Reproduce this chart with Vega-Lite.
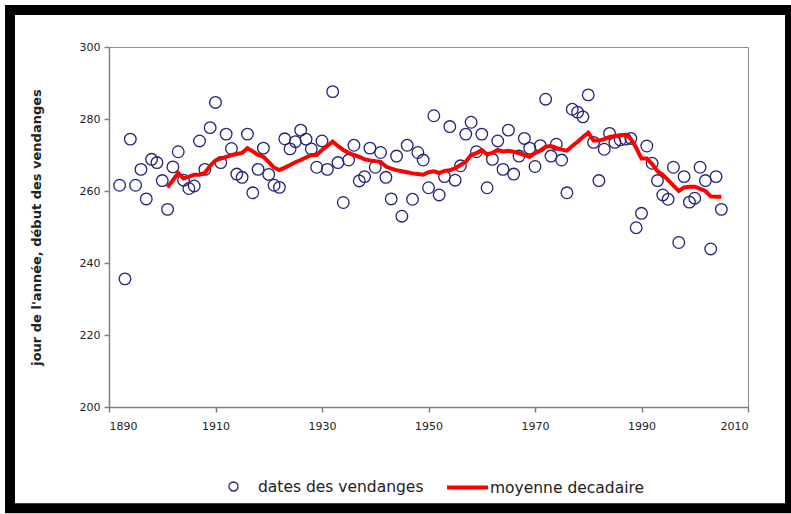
{
  "$schema": "https://vega.github.io/schema/vega-lite/v6.json",
  "width": 639,
  "height": 360,
  "autosize": {"type": "none"},
  "padding": {"left": 109, "top": 47, "right": 43, "bottom": 107},
  "background": "white",
  "datasets": {
    "vendanges": [
      {"annee": 1892, "jour": 261.6}, {"annee": 1893, "jour": 235.6}, {"annee": 1894, "jour": 274.4}, {"annee": 1895, "jour": 261.6},
      {"annee": 1896, "jour": 266}, {"annee": 1897, "jour": 257.8}, {"annee": 1898, "jour": 268.8}, {"annee": 1899, "jour": 267.9},
      {"annee": 1900, "jour": 262.9}, {"annee": 1901, "jour": 254.9}, {"annee": 1902, "jour": 266.7}, {"annee": 1903, "jour": 270.9},
      {"annee": 1904, "jour": 263}, {"annee": 1905, "jour": 260.7}, {"annee": 1906, "jour": 261.4}, {"annee": 1907, "jour": 273.9},
      {"annee": 1908, "jour": 266}, {"annee": 1909, "jour": 277.6}, {"annee": 1910, "jour": 284.6}, {"annee": 1911, "jour": 267.9},
      {"annee": 1912, "jour": 275.8}, {"annee": 1913, "jour": 271.8}, {"annee": 1914, "jour": 264.7}, {"annee": 1915, "jour": 263.8},
      {"annee": 1916, "jour": 275.8}, {"annee": 1917, "jour": 259.5}, {"annee": 1918, "jour": 266}, {"annee": 1919, "jour": 271.9},
      {"annee": 1920, "jour": 264.6}, {"annee": 1921, "jour": 261.6}, {"annee": 1922, "jour": 261}, {"annee": 1923, "jour": 274.5},
      {"annee": 1924, "jour": 271.7}, {"annee": 1925, "jour": 273.7}, {"annee": 1926, "jour": 276.9}, {"annee": 1927, "jour": 274.4},
      {"annee": 1928, "jour": 271.7}, {"annee": 1929, "jour": 266.6}, {"annee": 1930, "jour": 273.9}, {"annee": 1931, "jour": 266},
      {"annee": 1932, "jour": 287.6}, {"annee": 1933, "jour": 267.9}, {"annee": 1934, "jour": 256.8}, {"annee": 1935, "jour": 268.6},
      {"annee": 1936, "jour": 272.7}, {"annee": 1937, "jour": 262.8}, {"annee": 1938, "jour": 264}, {"annee": 1939, "jour": 271.9},
      {"annee": 1940, "jour": 266.6}, {"annee": 1941, "jour": 270.7}, {"annee": 1942, "jour": 263.8}, {"annee": 1943, "jour": 257.8},
      {"annee": 1944, "jour": 269.7}, {"annee": 1945, "jour": 253}, {"annee": 1946, "jour": 272.7}, {"annee": 1947, "jour": 257.7},
      {"annee": 1948, "jour": 270.7}, {"annee": 1949, "jour": 268.6}, {"annee": 1950, "jour": 260.9}, {"annee": 1951, "jour": 280.9},
      {"annee": 1952, "jour": 258.9}, {"annee": 1953, "jour": 264}, {"annee": 1954, "jour": 277.9}, {"annee": 1955, "jour": 263},
      {"annee": 1956, "jour": 267}, {"annee": 1957, "jour": 275.8}, {"annee": 1958, "jour": 279.1}, {"annee": 1959, "jour": 270.9},
      {"annee": 1960, "jour": 275.8}, {"annee": 1961, "jour": 260.9}, {"annee": 1962, "jour": 268.8}, {"annee": 1963, "jour": 273.9},
      {"annee": 1964, "jour": 266}, {"annee": 1965, "jour": 276.9}, {"annee": 1966, "jour": 264.7}, {"annee": 1967, "jour": 269.7},
      {"annee": 1968, "jour": 274.6}, {"annee": 1969, "jour": 271.9}, {"annee": 1970, "jour": 266.8}, {"annee": 1971, "jour": 272.6},
      {"annee": 1972, "jour": 285.5}, {"annee": 1973, "jour": 269.7}, {"annee": 1974, "jour": 273}, {"annee": 1975, "jour": 268.6},
      {"annee": 1976, "jour": 259.5}, {"annee": 1977, "jour": 282.7}, {"annee": 1978, "jour": 281.9}, {"annee": 1979, "jour": 280.6},
      {"annee": 1980, "jour": 286.7}, {"annee": 1981, "jour": 273.5}, {"annee": 1982, "jour": 262.9}, {"annee": 1983, "jour": 271.6},
      {"annee": 1984, "jour": 276}, {"annee": 1985, "jour": 273.5}, {"annee": 1986, "jour": 274.2}, {"annee": 1987, "jour": 274.4},
      {"annee": 1988, "jour": 274.6}, {"annee": 1989, "jour": 249.8}, {"annee": 1990, "jour": 253.8}, {"annee": 1991, "jour": 272.5},
      {"annee": 1992, "jour": 267.7}, {"annee": 1993, "jour": 262.9}, {"annee": 1994, "jour": 258.9}, {"annee": 1995, "jour": 257.7},
      {"annee": 1996, "jour": 266.6}, {"annee": 1997, "jour": 245.7}, {"annee": 1998, "jour": 264}, {"annee": 1999, "jour": 256.9},
      {"annee": 2000, "jour": 258}, {"annee": 2001, "jour": 266.6}, {"annee": 2002, "jour": 262.9}, {"annee": 2003, "jour": 243.9},
      {"annee": 2004, "jour": 264}, {"annee": 2005, "jour": 254.9}
    ],
    "moyenne": [
      {"annee": 1901, "jour": 261}, {"annee": 1902, "jour": 263}, {"annee": 1903, "jour": 265}, {"annee": 1904, "jour": 263.5},
      {"annee": 1905, "jour": 264}, {"annee": 1906, "jour": 264.5}, {"annee": 1907, "jour": 264.5}, {"annee": 1908, "jour": 265},
      {"annee": 1909, "jour": 267}, {"annee": 1910, "jour": 268.5}, {"annee": 1911, "jour": 269}, {"annee": 1912, "jour": 269.5},
      {"annee": 1913, "jour": 270}, {"annee": 1914, "jour": 270.3}, {"annee": 1915, "jour": 270.6}, {"annee": 1916, "jour": 271.9},
      {"annee": 1917, "jour": 271}, {"annee": 1918, "jour": 270}, {"annee": 1919, "jour": 269.5}, {"annee": 1920, "jour": 268},
      {"annee": 1921, "jour": 266.5}, {"annee": 1922, "jour": 265.8}, {"annee": 1923, "jour": 266.5}, {"annee": 1924, "jour": 267.2},
      {"annee": 1925, "jour": 268}, {"annee": 1926, "jour": 268.6}, {"annee": 1927, "jour": 269.3}, {"annee": 1928, "jour": 270},
      {"annee": 1929, "jour": 270}, {"annee": 1930, "jour": 271.4}, {"annee": 1931, "jour": 272.5}, {"annee": 1932, "jour": 273.7},
      {"annee": 1933, "jour": 272.5}, {"annee": 1934, "jour": 271.4}, {"annee": 1935, "jour": 270.6}, {"annee": 1936, "jour": 270},
      {"annee": 1937, "jour": 269.5}, {"annee": 1938, "jour": 268.8}, {"annee": 1939, "jour": 268.5}, {"annee": 1940, "jour": 268.3},
      {"annee": 1941, "jour": 268.1}, {"annee": 1942, "jour": 266.8}, {"annee": 1943, "jour": 266.2}, {"annee": 1944, "jour": 265.8},
      {"annee": 1945, "jour": 265.5}, {"annee": 1946, "jour": 265.2}, {"annee": 1947, "jour": 264.9}, {"annee": 1948, "jour": 264.7},
      {"annee": 1949, "jour": 264.5}, {"annee": 1950, "jour": 265.2}, {"annee": 1951, "jour": 265.5}, {"annee": 1952, "jour": 265},
      {"annee": 1953, "jour": 265.6}, {"annee": 1954, "jour": 265.8}, {"annee": 1955, "jour": 266.3}, {"annee": 1956, "jour": 267.2},
      {"annee": 1957, "jour": 268.1}, {"annee": 1958, "jour": 270}, {"annee": 1959, "jour": 270.5}, {"annee": 1960, "jour": 271.4},
      {"annee": 1961, "jour": 270.2}, {"annee": 1962, "jour": 270.6}, {"annee": 1963, "jour": 271.4}, {"annee": 1964, "jour": 271},
      {"annee": 1965, "jour": 271.2}, {"annee": 1966, "jour": 270.9}, {"annee": 1967, "jour": 270.5}, {"annee": 1968, "jour": 270},
      {"annee": 1969, "jour": 269.5}, {"annee": 1970, "jour": 270.5}, {"annee": 1971, "jour": 271.2}, {"annee": 1972, "jour": 272.3},
      {"annee": 1973, "jour": 272.5}, {"annee": 1974, "jour": 272}, {"annee": 1975, "jour": 271.5}, {"annee": 1976, "jour": 271.2},
      {"annee": 1977, "jour": 272.5}, {"annee": 1978, "jour": 273.7}, {"annee": 1979, "jour": 275}, {"annee": 1980, "jour": 276.2},
      {"annee": 1981, "jour": 274}, {"annee": 1982, "jour": 274}, {"annee": 1983, "jour": 274.4}, {"annee": 1984, "jour": 275},
      {"annee": 1985, "jour": 275.3}, {"annee": 1986, "jour": 275.5}, {"annee": 1987, "jour": 275.6}, {"annee": 1988, "jour": 274.5},
      {"annee": 1989, "jour": 272}, {"annee": 1990, "jour": 269}, {"annee": 1991, "jour": 269}, {"annee": 1992, "jour": 267.5},
      {"annee": 1993, "jour": 265.5}, {"annee": 1994, "jour": 264.5}, {"annee": 1995, "jour": 263}, {"annee": 1996, "jour": 261.5},
      {"annee": 1997, "jour": 260}, {"annee": 1998, "jour": 261}, {"annee": 1999, "jour": 261.2}, {"annee": 2000, "jour": 261.2},
      {"annee": 2001, "jour": 260.6}, {"annee": 2002, "jour": 260}, {"annee": 2003, "jour": 258.5}, {"annee": 2004, "jour": 258.4},
      {"annee": 2005, "jour": 258.4}
    ]
  },
  "layer": [
    {
      "data": {"name": "vendanges"},
      "mark": {"type": "point", "shape": "circle", "filled": false, "size": 135, "strokeWidth": 1.3, "opacity": 1},
      "encoding": {
        "x": {
          "field": "annee", "type": "quantitative",
          "scale": {"domain": [1890, 2010], "nice": false, "zero": false},
          "axis": {"title": null, "values": [1890, 1910, 1930, 1950, 1970, 1990, 2010], "format": "d", "labelPadding": 8}
        },
        "y": {
          "field": "jour", "type": "quantitative",
          "scale": {"domain": [200, 300], "nice": false, "zero": false},
          "axis": {"title": "jour de l'année, début des vendanges", "values": [200, 220, 240, 260, 280, 300], "labelPadding": 4, "titlePadding": 36, "titleFontWeight": "bold", "titleFontSize": 13, "titleColor": "#222", "titleFont": "DejaVu Sans"}
        },
        "color": {
          "datum": "dates des vendanges", "type": "nominal",
          "scale": {"range": ["#23237d"]},
          "legend": {
            "title": null,
            "symbolType": "M-0.22,0A0.22,0.22,0,1,0,0.22,0A0.22,0.22,0,1,0,-0.22,0Z",
            "symbolSize": 1681, "symbolStrokeWidth": 1.3, "labelOffset": 3, "symbolFillColor": "transparent"
          }
        }
      }
    },
    {
      "data": {"name": "moyenne"},
      "mark": {"type": "line", "strokeWidth": 4},
      "encoding": {
        "x": {"field": "annee", "type": "quantitative"},
        "y": {"field": "jour", "type": "quantitative"},
        "color": {
          "datum": "moyenne decadaire", "type": "nominal",
          "scale": {"range": ["#ff0000"]},
          "legend": {"title": null, "symbolType": "stroke", "symbolSize": 1681, "symbolStrokeWidth": 4, "labelOffset": 0}
        }
      }
    },
    {
      "data": {"values": [{}]},
      "mark": {"type": "rect", "fill": "transparent", "stroke": "black", "strokeWidth": 10, "clip": false},
      "encoding": {
        "x": {"datum": 1871.41, "type": "quantitative"},
        "x2": {"datum": 2017.89},
        "y": {"datum": 310.28, "type": "quantitative"},
        "y2": {"datum": 171.9}
      }
    }
  ],
  "resolve": {"scale": {"color": "independent"}, "legend": {"color": "independent"}},
  "config": {
    "font": "DejaVu Sans",
    "view": {"stroke": "#8c8c8c", "strokeWidth": 1},
    "axis": {
      "domainColor": "#808080", "domainWidth": 1.5, "tickColor": "#808080", "tickWidth": 1.5, "tickSize": 5,
      "labelFont": "DejaVu Sans", "labelFontSize": 11, "labelColor": "#222", "grid": false
    },
    "legend": {
      "orient": "bottom", "direction": "horizontal", "labelFont": "DejaVu Sans", "labelFontSize": 15.5,
      "labelColor": "#222", "padding": 0, "offset": 34, "labelLimit": 400,
      "layout": {"bottom": {"anchor": "middle", "direction": "horizontal", "margin": 21}}
    }
  }
}
